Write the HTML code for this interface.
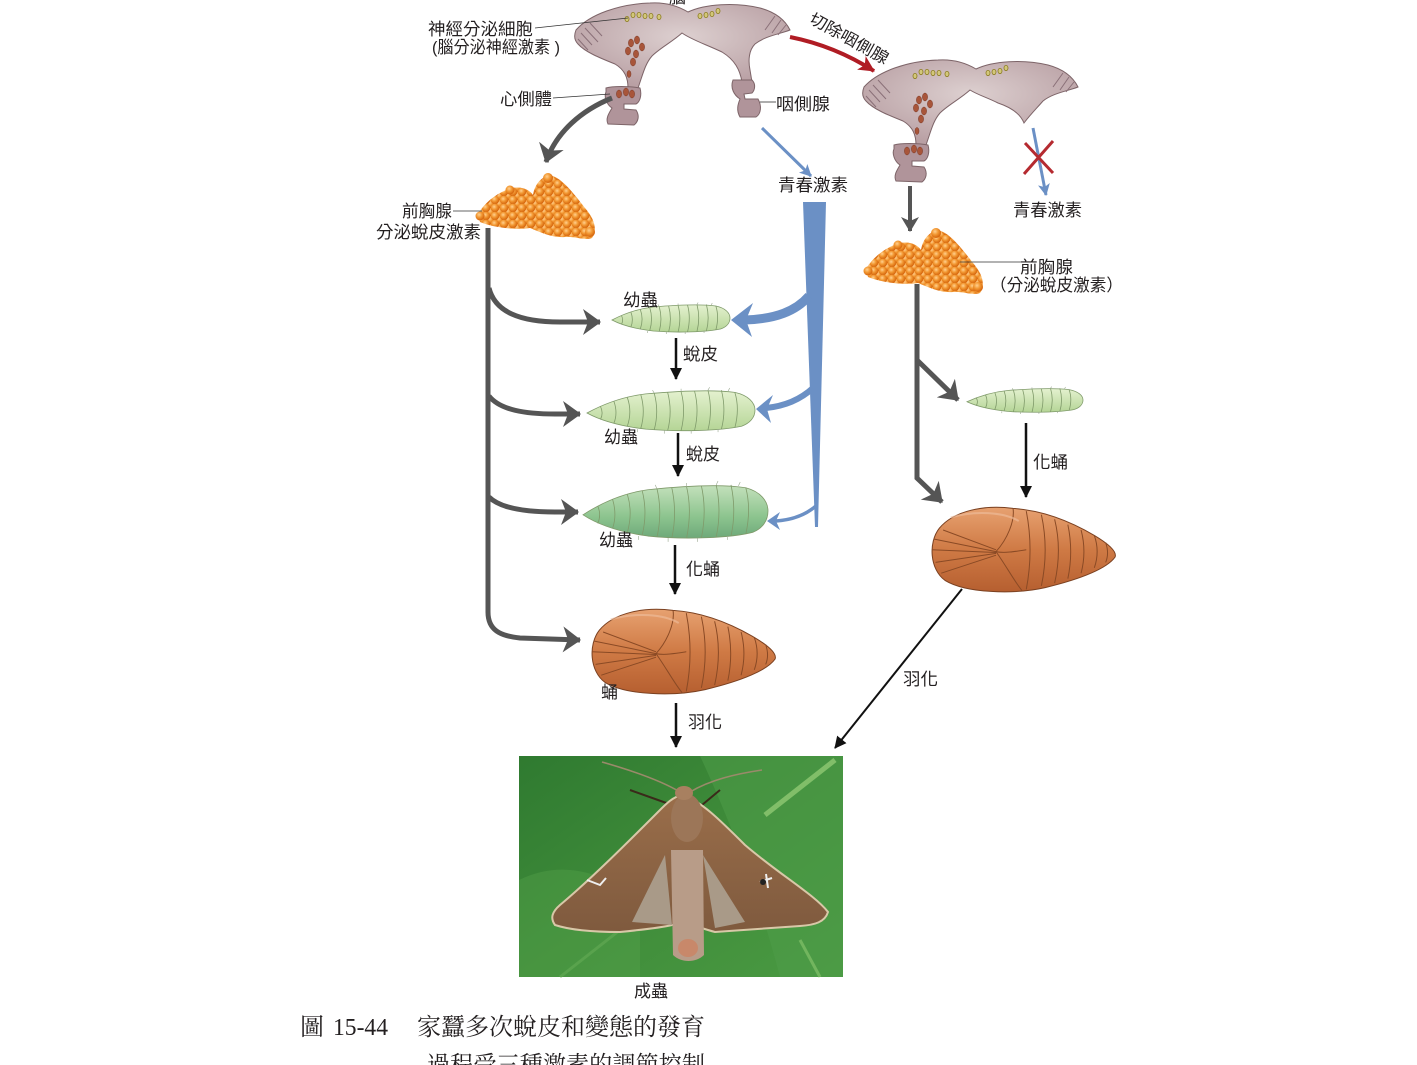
<!DOCTYPE html>
<html><head><meta charset="utf-8"><style>
html,body{margin:0;padding:0;background:#fff;}
svg{display:block;}
.t{font-family:"Liberation Sans","Noto Sans CJK TC","Noto Sans CJK SC",sans-serif;font-size:17px;fill:#231f20;}
.c{font-family:"Liberation Serif","Noto Serif CJK SC",serif;font-size:24px;fill:#231f20;}
</style></head><body>
<svg width="1417" height="1065" viewBox="0 0 1417 1065" xmlns="http://www.w3.org/2000/svg">
<defs>
  <radialGradient id="brainG" cx="50%" cy="40%" r="60%">
    <stop offset="0" stop-color="#ddd0d0"/><stop offset="1" stop-color="#b9a0a4"/>
  </radialGradient>
  <radialGradient id="bead" cx="40%" cy="35%" r="60%">
    <stop offset="0" stop-color="#ffd090"/><stop offset="0.5" stop-color="#f39a35"/><stop offset="1" stop-color="#d86a10"/>
  </radialGradient>
  <pattern id="beads" width="9" height="8" patternUnits="userSpaceOnUse">
    <rect width="9" height="8" fill="#e07818"/>
    <circle cx="4.5" cy="4" r="4.2" fill="url(#bead)"/>
    <circle cx="0" cy="0" r="4.2" fill="url(#bead)"/>
    <circle cx="9" cy="0" r="4.2" fill="url(#bead)"/>
    <circle cx="0" cy="8" r="4.2" fill="url(#bead)"/>
    <circle cx="9" cy="8" r="4.2" fill="url(#bead)"/>
  </pattern>
  <linearGradient id="larvaL" x1="0" y1="0" x2="0" y2="1">
    <stop offset="0" stop-color="#e4f1cf"/><stop offset="1" stop-color="#b5d596"/>
  </linearGradient>
  <linearGradient id="larvaD" x1="0" y1="0" x2="0" y2="1">
    <stop offset="0" stop-color="#c3e0bb"/><stop offset="0.6" stop-color="#8cc48e"/><stop offset="1" stop-color="#6ea97a"/>
  </linearGradient>
  <linearGradient id="pupaG" x1="0" y1="0" x2="0" y2="1">
    <stop offset="0" stop-color="#e7a170"/><stop offset="0.5" stop-color="#cf7a45"/><stop offset="1" stop-color="#b65f30"/>
  </linearGradient>
  <linearGradient id="leaf" x1="0" y1="0" x2="1" y2="1">
    <stop offset="0" stop-color="#2f7a30"/><stop offset="0.5" stop-color="#3f8c3a"/><stop offset="1" stop-color="#4a9a42"/>
  </linearGradient>
  <linearGradient id="wing" x1="0" y1="0" x2="0" y2="1">
    <stop offset="0" stop-color="#9a6e4a"/><stop offset="1" stop-color="#7f5a3e"/>
  </linearGradient>
  <marker id="gh" markerUnits="userSpaceOnUse" markerWidth="22" markerHeight="28" refX="17" refY="13" orient="auto">
    <path d="M0,0 L18,13 L0,26 L5,13 Z" fill="#555"/>
  </marker>
  <marker id="ghs" markerUnits="userSpaceOnUse" markerWidth="18" markerHeight="20" refX="14" refY="9" orient="auto">
    <path d="M0,0 L15,9 L0,18 L4,9 Z" fill="#555"/>
  </marker>
  <marker id="bh" markerUnits="userSpaceOnUse" markerWidth="14" markerHeight="14" refX="11" refY="6" orient="auto">
    <path d="M0,0 L12,6 L0,12 Z" fill="#111"/>
  </marker>
  <marker id="rh" markerUnits="userSpaceOnUse" markerWidth="20" markerHeight="20" refX="15" refY="8" orient="auto">
    <path d="M0,0 L16,8 L0,16 L4,8 Z" fill="#b01c24"/>
  </marker>
  <marker id="blh" markerUnits="userSpaceOnUse" markerWidth="14" markerHeight="14" refX="11" refY="6" orient="auto">
    <path d="M0,0 L12,6 L0,12 L3,6 Z" fill="#6b90c5"/>
  </marker>

  <g id="larva">
    <path d="M0,17 C8,12 20,6 35,4 C55,2 75,1 88,3 C96,5 100,10 100,15 C100,20 97,24 92,26 C80,29 55,30 35,28 C20,26 8,22 0,17 Z" stroke="#7f9a6a" stroke-width="0.8" vector-effect="non-scaling-stroke"/>
    <g fill="none" stroke="#7f9a6a" stroke-width="0.8">
      <path vector-effect="non-scaling-stroke" d="M8,12.5 Q10,17 8,21.5 M16,9 Q18.5,17 16,24 M24,6.5 Q27,16 24,26 M32,4.5 Q35,16 32,27.5 M40,3.5 Q43,16 40,28.5 M48,3 Q51,16 48,29 M56,2.5 Q59,15 56,29 M64,2 Q67,15 64,29 M72,1.5 Q75,15 72,28.5 M80,1.5 Q83,15 80,28 M88,3 Q91,14 88,27"/>
    </g>
    <g fill="none" stroke="#9aa890" stroke-width="0.6">
      <path vector-effect="non-scaling-stroke" d="M40,3.5 l-1,-2 M56,2.5 l0,-2 M72,1.5 l1,-2 M84,2 l1,-2 M30,28 l0,2 M46,29 l0,2 M62,29 l0,2 M78,28 l0,2"/>
    </g>
  </g>
  <g id="pupa">
    <path d="M6,14 C14,4 30,1 45,3 C60,4 75,10 88,18 C96,23 100,27 99,30 C95,36 82,42 62,47 C45,51 20,50 9,43 C1,37 0,22 6,14 Z" fill="url(#pupaG)" stroke="#7a4020" stroke-width="1" vector-effect="non-scaling-stroke"/>
    <g fill="none" stroke="#8a4a25" stroke-width="1">
      <path vector-effect="non-scaling-stroke" d="M52,4.5 Q56,26 52,48 M60,6.5 Q64,26 60,46 M67,9 Q71,26 67,44.5 M74,12 Q77,27 74,42 M81,15 Q84,27 81,39 M88,18 Q91,27 88,36 M94,22 Q96,28 94,33"/>
      <path vector-effect="non-scaling-stroke" d="M36,27 C42,20 46,10 45,3 M36,27 C42,36 46,44 50,49 M36,27 C40,28 46,27 52,26"/>
      <path vector-effect="non-scaling-stroke" d="M3,20 L36,27 M2,26 L36,27.5 M4,33 L36,28 M8,15 L36,26 M7,39 L36,29"/>
    </g>
    <path d="M12,8 C25,4 40,5 48,10" stroke="#f0c0a0" stroke-width="2" fill="none" opacity="0.6" vector-effect="non-scaling-stroke"/>
  </g>

  <g id="brainBody">
    <path d="M576,30 C590,14 620,4 650,3 C665,2 678,6 688,12 C705,4 735,2 760,8 C775,12 785,20 790,30 C780,34 765,36 755,44 C749,50 748,60 750,70 L752,82 L742,82 C740,70 735,60 722,52 C705,44 692,40 682,33 C672,42 660,48 652,56 C645,64 643,74 638,88 L628,88 C628,78 625,70 615,64 C600,58 585,52 578,44 C574,40 574,35 576,30 Z" fill="url(#brainG)" stroke="#7d6468" stroke-width="1"/>
  </g>
  <g id="brainDetail">
    <path d="M606,88 C612,86 630,86 640,88 C642,95 640,102 636,104 L624,104 L624,109 L636,110 C640,116 638,122 634,125 L608,124 C605,118 610,112 612,108 C606,104 604,96 606,92 Z" fill="#b0949a" stroke="#7d6468" stroke-width="1"/>
    <g fill="none" stroke="#8a7078" stroke-width="1">
      <path d="M581,33 L592,45 M585,28 L598,42 M590,23 L602,36 M578,39 L588,50"/>
      <path d="M775,16 L765,30 M781,20 L772,33 M786,25 L778,35"/>
    </g>
    <g fill="#d2c77a" stroke="#8a7a20" stroke-width="0.8">
      <ellipse cx="627" cy="19" rx="2" ry="2.6"/><ellipse cx="633" cy="15" rx="2" ry="2.6"/>
      <ellipse cx="639" cy="15" rx="2" ry="2.6"/><ellipse cx="645" cy="16" rx="2" ry="2.6"/>
      <ellipse cx="651" cy="16" rx="2" ry="2.6"/><ellipse cx="659" cy="17" rx="2" ry="2.6"/>
      <ellipse cx="700" cy="16" rx="2" ry="2.6"/><ellipse cx="706" cy="15" rx="2" ry="2.6"/>
      <ellipse cx="712" cy="14" rx="2" ry="2.6"/><ellipse cx="718" cy="11" rx="2" ry="2.6"/>
    </g>
    <g fill="#a8553a" stroke="#7a3a28" stroke-width="0.5">
      <ellipse cx="631" cy="43" rx="2.6" ry="4"/><ellipse cx="637" cy="40" rx="2.6" ry="4"/>
      <ellipse cx="642" cy="47" rx="2.6" ry="4"/><ellipse cx="628" cy="51" rx="2.6" ry="4"/>
      <ellipse cx="636" cy="54" rx="2.6" ry="4"/><ellipse cx="633" cy="62" rx="2.6" ry="4"/>
      <ellipse cx="629" cy="74" rx="2" ry="3.5"/><ellipse cx="619" cy="94" rx="2.6" ry="4"/>
      <ellipse cx="626" cy="92" rx="2.6" ry="4"/><ellipse cx="632" cy="94" rx="2.6" ry="4"/>
    </g>
  </g>
</defs>

<!-- ========== LEFT BRAIN ========== -->
<use href="#brainBody"/>
<use href="#brainDetail"/>
<path d="M733,80 L752,80 C756,84 755,90 752,93 L744,94 L745,99 L758,99 C762,106 761,114 756,117 L740,117 C736,110 738,104 740,99 C734,95 730,88 733,80 Z" fill="#b0949a" stroke="#7d6468" stroke-width="1"/>
<text class="t" x="669" y="3">腦</text>

<line x1="535" y1="28" x2="628" y2="18" stroke="#333" stroke-width="0.8"/>
<text class="t" x="428" y="35" textLength="105" lengthAdjust="spacingAndGlyphs">神經分泌細胞</text>
<text class="t" x="432" y="53" textLength="128" lengthAdjust="spacingAndGlyphs">(腦分泌神經激素 )</text>
<line x1="553" y1="98" x2="610" y2="94" stroke="#333" stroke-width="0.8"/>
<text class="t" x="500" y="105" textLength="52" lengthAdjust="spacingAndGlyphs">心側體</text>
<line x1="760" y1="102" x2="776" y2="102" stroke="#333" stroke-width="0.8"/>
<text class="t" x="776" y="110" textLength="54" lengthAdjust="spacingAndGlyphs">咽側腺</text>

<path d="M790,37 Q835,46 874,71" fill="none" stroke="#b01c24" stroke-width="4" marker-end="url(#rh)"/>
<text class="t" style="font-size:16px" transform="translate(808,22) rotate(29)" textLength="88" lengthAdjust="spacingAndGlyphs">切除咽側腺</text>

<path d="M612,98 C582,110 556,132 546,162" fill="none" stroke="#555" stroke-width="5" marker-end="url(#gh)"/>

<line x1="762" y1="128" x2="811" y2="176" stroke="#6b90c5" stroke-width="3" marker-end="url(#blh)"/>
<text class="t" x="778" y="191" textLength="70" lengthAdjust="spacingAndGlyphs">青春激素</text>

<path d="M478,214 C485,202 498,192 512,188 C522,186 530,190 533,195 C535,183 543,175 552,176 C562,178 575,195 585,208 C594,218 598,230 592,238 C585,241 575,236 565,237 C552,238 540,232 530,228 C515,230 495,228 480,222 Z" fill="url(#beads)"/>
<circle cx="590" cy="232" r="5" fill="url(#bead)"/><circle cx="548" cy="178" r="5" fill="url(#bead)"/>
<circle cx="480" cy="216" r="4.5" fill="url(#bead)"/><circle cx="510" cy="190" r="4.5" fill="url(#bead)"/>
<line x1="453" y1="211" x2="482" y2="211" stroke="#333" stroke-width="0.8"/>
<text class="t" x="402" y="217" textLength="50" lengthAdjust="spacingAndGlyphs">前胸腺</text>
<text class="t" x="376" y="238" textLength="105" lengthAdjust="spacingAndGlyphs">分泌蛻皮激素</text>

<path d="M488,228 L488,612 C488,630 500,636 520,638 L580,640" fill="none" stroke="#555" stroke-width="5" marker-end="url(#gh)"/>
<path d="M489,288 C495,312 520,322 560,322 L600,322" fill="none" stroke="#555" stroke-width="5" marker-end="url(#gh)"/>
<path d="M489,396 C500,410 525,414 555,414 L580,414" fill="none" stroke="#555" stroke-width="5" marker-end="url(#gh)"/>
<path d="M489,497 C500,508 525,512 555,512 L578,512" fill="none" stroke="#555" stroke-width="5" marker-end="url(#gh)"/>

<polygon points="803,202 826,202 818,527 815,527" fill="#6b90c5"/>
<path d="M809,296 C796,311 776,319 745,320" fill="none" stroke="#6b90c5" stroke-width="9"/>
<polygon points="731,320 753,303 746,320 752,337" fill="#6b90c5"/>
<path d="M813,388 C801,399 786,406 766,408" fill="none" stroke="#6b90c5" stroke-width="6"/>
<polygon points="756,409 773,395 767,409 771,423" fill="#6b90c5"/>
<path d="M817,505 C806,515 791,520 776,521" fill="none" stroke="#6b90c5" stroke-width="3.5"/>
<polygon points="767,521 780,512 776,521 780,530" fill="#6b90c5"/>

<g transform="translate(612,303) scale(1.18,1.0)" fill="url(#larvaL)"><use href="#larva"/></g>
<text class="t" x="623" y="306" textLength="35" lengthAdjust="spacingAndGlyphs">幼蟲</text>
<line x1="676" y1="338" x2="676" y2="379" stroke="#111" stroke-width="2.5" marker-end="url(#bh)"/>
<text class="t" x="683" y="360" textLength="35" lengthAdjust="spacingAndGlyphs">蛻皮</text>

<g transform="translate(587,388) scale(1.68,1.47)" fill="url(#larvaL)"><use href="#larva"/></g>
<text class="t" x="604" y="443" textLength="34" lengthAdjust="spacingAndGlyphs">幼蟲</text>
<line x1="678" y1="433" x2="678" y2="476" stroke="#111" stroke-width="2.5" marker-end="url(#bh)"/>
<text class="t" x="686" y="460" textLength="34" lengthAdjust="spacingAndGlyphs">蛻皮</text>

<g transform="translate(583,482) scale(1.85,1.93)" fill="url(#larvaD)"><use href="#larva"/></g>
<text class="t" x="599" y="546" textLength="34" lengthAdjust="spacingAndGlyphs">幼蟲</text>
<line x1="675" y1="545" x2="675" y2="594" stroke="#111" stroke-width="2.5" marker-end="url(#bh)"/>
<text class="t" x="686" y="575" textLength="34" lengthAdjust="spacingAndGlyphs">化蛹</text>

<g transform="translate(588,605) scale(1.89,1.8)"><use href="#pupa"/></g>
<text class="t" x="601" y="698">蛹</text>
<line x1="676" y1="703" x2="676" y2="747" stroke="#111" stroke-width="2.5" marker-end="url(#bh)"/>
<text class="t" x="688" y="728" textLength="34" lengthAdjust="spacingAndGlyphs">羽化</text>

<!-- ========== RIGHT BRAIN ========== -->
<g transform="translate(288,57)">
  <path d="M576,30 C590,14 620,4 650,3 C665,2 678,6 688,12 C705,4 735,2 760,8 C775,12 785,20 790,30 C780,34 765,36 755,44 C748,52 742,58 736,66 C732,56 722,50 710,46 C698,40 690,38 682,33 C672,42 660,48 652,56 C645,64 643,74 638,88 L628,88 C628,78 625,70 615,64 C600,58 585,52 578,44 C574,40 574,35 576,30 Z" fill="url(#brainG)" stroke="#7d6468" stroke-width="1"/>
  <use href="#brainDetail"/>
</g>

<line x1="910" y1="186" x2="910" y2="231" stroke="#555" stroke-width="4" marker-end="url(#ghs)"/>

<line x1="1033" y1="128" x2="1046" y2="195" stroke="#6b90c5" stroke-width="3" marker-end="url(#blh)"/>
<line x1="1025" y1="143" x2="1053" y2="173" stroke="#b52a30" stroke-width="3"/>
<line x1="1053" y1="141" x2="1024" y2="174" stroke="#b52a30" stroke-width="3"/>
<text class="t" x="1013" y="216" textLength="69" lengthAdjust="spacingAndGlyphs">青春激素</text>

<g transform="translate(388,55)">
  <path d="M478,214 C485,202 498,192 512,188 C522,186 530,190 533,195 C535,183 543,175 552,176 C562,178 575,195 585,208 C594,218 598,230 592,238 C585,241 575,236 565,237 C552,238 540,232 530,228 C515,230 495,228 480,222 Z" fill="url(#beads)"/>
  <circle cx="590" cy="232" r="5" fill="url(#bead)"/><circle cx="548" cy="178" r="5" fill="url(#bead)"/>
  <circle cx="480" cy="216" r="4.5" fill="url(#bead)"/><circle cx="510" cy="190" r="4.5" fill="url(#bead)"/>
</g>
<line x1="960" y1="262" x2="1021" y2="262" stroke="#333" stroke-width="0.8"/>
<text class="t" x="1020" y="273" textLength="53" lengthAdjust="spacingAndGlyphs">前胸腺</text>
<text class="t" x="990" y="291" textLength="133" lengthAdjust="spacingAndGlyphs">（分泌蛻皮激素）</text>

<path d="M917,284 L917,478 L942,502" fill="none" stroke="#555" stroke-width="5" marker-end="url(#gh)"/>
<path d="M917,360 L958,400" fill="none" stroke="#555" stroke-width="5" marker-end="url(#gh)"/>

<g transform="translate(967,387) scale(1.16,0.87)" fill="url(#larvaL)"><use href="#larva"/></g>
<line x1="1026" y1="423" x2="1026" y2="497" stroke="#111" stroke-width="2.5" marker-end="url(#bh)"/>
<text class="t" x="1033" y="468" textLength="35" lengthAdjust="spacingAndGlyphs">化蛹</text>

<g transform="translate(928,503) scale(1.89,1.8)"><use href="#pupa"/></g>

<line x1="962" y1="589" x2="835" y2="748" stroke="#111" stroke-width="2" marker-end="url(#bh)"/>
<text class="t" x="903" y="685" textLength="35" lengthAdjust="spacingAndGlyphs">羽化</text>

<!-- ========== MOTH PHOTO ========== -->
<rect x="519" y="756" width="324" height="221" fill="url(#leaf)"/>
<path d="M700,756 L843,756 L843,977 L780,977 C760,900 730,820 700,756 Z" fill="#4f9c48" opacity="0.55"/>
<path d="M519,880 C560,860 600,870 640,900 L640,977 L519,977 Z" fill="#5aa64e" opacity="0.35"/>
<line x1="765" y1="815" x2="835" y2="760" stroke="#9ad07a" stroke-width="5" opacity="0.7"/>
<line x1="800" y1="940" x2="820" y2="977" stroke="#8cc870" stroke-width="3" opacity="0.6"/>
<line x1="560" y1="977" x2="620" y2="930" stroke="#6ab05a" stroke-width="3" opacity="0.5"/>
<path d="M680,792 C660,780 630,770 602,762" fill="none" stroke="#9a8a6a" stroke-width="1.6"/>
<path d="M690,792 C710,780 735,774 762,770" fill="none" stroke="#9a8a6a" stroke-width="1.6"/>
<path d="M672,805 L630,790 M702,805 L720,790" stroke="#3a2a1a" stroke-width="2"/>
<path d="M682,795 C700,800 720,820 745,845 C780,875 815,895 828,912 C825,922 815,925 800,926 C770,928 740,930 715,932 C700,928 695,925 688,925 L672,925 C660,928 640,930 620,932 C595,932 570,930 555,925 C550,918 552,912 560,905 C590,880 630,840 655,815 C665,805 672,797 682,795 Z" fill="url(#wing)" stroke="#d8c8a8" stroke-width="2"/>
<path d="M665,855 L672,925 L632,922 Z" fill="#a99a88"/>
<path d="M703,855 L715,928 L745,922 Z" fill="#a99a88"/>
<path d="M671,850 L703,850 L704,955 C696,963 681,963 673,955 Z" fill="#b89c88"/>
<ellipse cx="688" cy="948" rx="10" ry="9" fill="#c8886a"/>
<ellipse cx="687" cy="818" rx="16" ry="24" fill="#9c7658"/>
<ellipse cx="684" cy="793" rx="9" ry="7" fill="#a88060"/>
<path d="M587,880 L600,885 L606,878" fill="none" stroke="#eee" stroke-width="2"/>
<path d="M760,882 L772,878 M766,874 L768,888" stroke="#eee" stroke-width="2"/>
<circle cx="763" cy="882" r="3" fill="#222"/>
<text class="t" x="634" y="997" textLength="34" lengthAdjust="spacingAndGlyphs">成蟲</text>

<text class="c" x="300" y="1035">圖</text>
<text class="c" x="333" y="1035" textLength="55" lengthAdjust="spacingAndGlyphs">15-44</text>
<text class="c" x="417" y="1035" textLength="288" lengthAdjust="spacingAndGlyphs">家蠶多次蛻皮和變態的發育</text>
<text class="c" x="427" y="1073" textLength="278" lengthAdjust="spacingAndGlyphs">過程受三種激素的調節控制</text>
</svg>
</body></html>
